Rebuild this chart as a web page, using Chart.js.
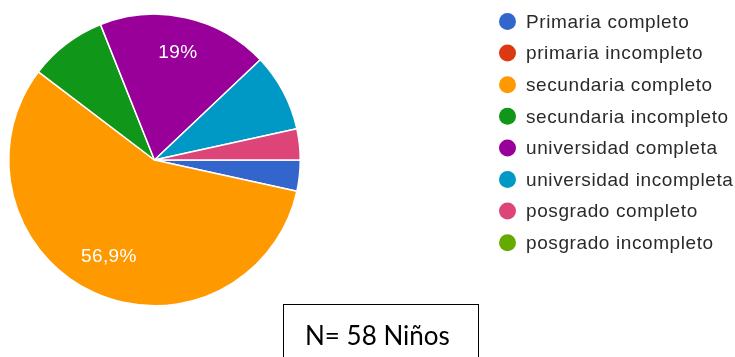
<!DOCTYPE html>
<html lang="es">
<head>
<meta charset="utf-8">
<script src="https://cdn.jsdelivr.net/npm/chart.js@4/dist/chart.umd.min.js"></script>
<style>
  html, body { margin: 0; padding: 0; background: #fff; }
  #cadre { position: relative; width: 735px; height: 357px; overflow: hidden; }
  #graphique { position: absolute; left: 0; top: 0; }
  /* encadré avec l'effectif total */
  #effectif {
    position: absolute; left: 283px; top: 304px; width: 196px; height: 80px;
    border: 1.5px solid #000; box-sizing: border-box;
    font-family: Lato, "Liberation Sans", sans-serif; font-size: 26px; color: #000;
    padding-left: 21px; padding-top: 14px;
  }
</style>
</head>
<body>
<div id="cadre">
  <canvas id="graphique" width="735" height="357"></canvas>
  <div id="effectif">N= 58 Niños</div>
</div>
<script>
// Niveau d'études (réponses sur 58 enfants)
const categories = [
    'Primaria completo',
    'primaria incompleto',
    'secundaria completo',
    'secundaria incompleto',
    'universidad completa',
    'universidad incompleta',
    'posgrado completo',
    'posgrado incompleto'
];
const reponses = [2, 0, 33, 5, 11, 5, 2, 0];
const couleurs = ['#3366cc', '#dc3912', '#ff9900', '#109618', '#990099', '#0099c6', '#dd4477', '#66aa00'];

function formaterPourcentage(valeur, total) {
    // 56.9 -> "56,9%", 19.0 -> "19%"
    const p = Math.round(valeur / total * 1000) / 10;
    return String(p).replace('.', ',') + '%';
}

// Pourcentages écrits dans les grandes parts seulement
const pluginEtiquettes = {
    id: 'etiquettes',
    afterDatasetsDraw(chart) {
        const ctx = chart.ctx;
        const meta = chart.getDatasetMeta(0);
        const total = reponses.reduce((a, b) => a + b, 0);
        ctx.save();
        ctx.fillStyle = '#ffffff';
        ctx.font = '19px "Liberation Sans", Arial, sans-serif';
        ctx.letterSpacing = '0.4px';
        ctx.textAlign = 'center';
        ctx.textBaseline = 'middle';
        meta.data.forEach((arc, i) => {
            if (reponses[i] / total < 0.15) return;
            const milieu = (arc.startAngle + arc.endAngle) / 2;
            const d = arc.outerRadius * 0.745;
            ctx.fillText(formaterPourcentage(reponses[i], total),
                arc.x + Math.cos(milieu) * d, arc.y + Math.sin(milieu) * d - 1.5);
        });
        ctx.restore();
    }
};

// Légende à droite, une pastille ronde par catégorie
const pluginLegende = {
    id: 'legende',
    afterDraw(chart) {
        const ctx = chart.ctx;
        ctx.save();
        ctx.font = '19px "Liberation Sans", Arial, sans-serif';
        ctx.letterSpacing = '0.6px';
        ctx.textBaseline = 'middle';
        categories.forEach((nom, i) => {
            const y = 21.5 + i * 31.6;
            ctx.fillStyle = couleurs[i];
            ctx.beginPath();
            ctx.arc(507.5, y, 8.5, 0, Math.PI * 2);
            ctx.fill();
            ctx.fillStyle = '#2a2a2a';
            ctx.fillText(nom, 526, y + 1);
        });
        ctx.restore();
    }
};

new Chart(document.getElementById('graphique'), {
    type: 'pie',
    data: {
        labels: categories,
        datasets: [{
            data: reponses,
            backgroundColor: couleurs,
            borderColor: '#ffffff',
            borderWidth: 1.5
        }]
    },
    options: {
        responsive: false,
        animation: false,
        rotation: 90,
        layout: {
            padding: { left: 8, right: 434, top: 13, bottom: 50 }
        },
        plugins: {
            legend: { display: false },
            tooltip: { enabled: false }
        }
    },
    plugins: [pluginEtiquettes, pluginLegende]
});
</script>
</body>
</html>
